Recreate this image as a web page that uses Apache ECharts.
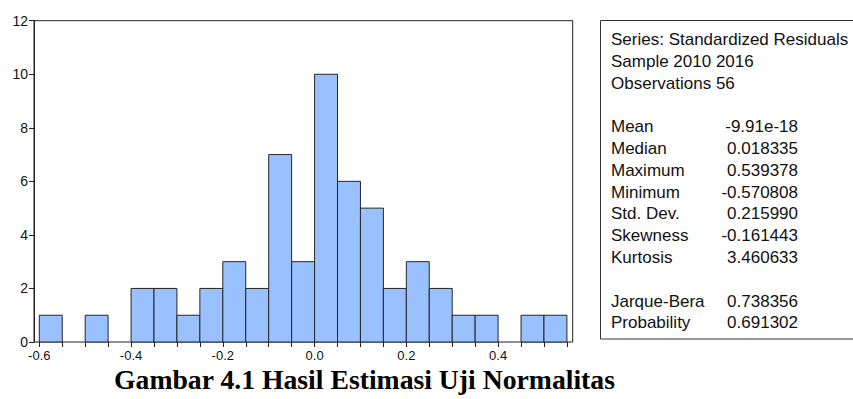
<!DOCTYPE html>
<html>
<head>
<meta charset="utf-8">
<script src="https://cdn.jsdelivr.net/npm/echarts@6/dist/echarts.min.js"></script>
<style>
html,body{margin:0;padding:0;background:#fff;}
#chart{width:853px;height:399px;}
</style>
</head>
<body>
<div id="chart"></div>
<script>
// Histogram bins (lower edges) and counts
var binStarts = [-0.60, -0.55, -0.50, -0.45, -0.40, -0.35, -0.30, -0.25, -0.20, -0.15, -0.10, -0.05,
                 0.00, 0.05, 0.10, 0.15, 0.20, 0.25, 0.30, 0.35, 0.40, 0.45, 0.50];
var binWidth = 0.05;
var counts = [1, 0, 1, 0, 2, 2, 1, 2, 3, 2, 7, 3, 10, 6, 5, 2, 3, 2, 1, 1, 0, 1, 1];

// Axis ticks
var yTicks = [0, 2, 4, 6, 8, 10, 12];
var xLabelValues = [-0.6, -0.4, -0.2, 0.0, 0.2, 0.4];

// Statistics panel
var headerLines = ['Series: Standardized Residuals', 'Sample 2010 2016', 'Observations 56'];
var statLabels = ['Mean', 'Median', 'Maximum', 'Minimum', 'Std. Dev.', 'Skewness', 'Kurtosis'];
var statValues = ['-9.91e-18', '0.018335', '0.539378', '-0.570808', '0.215990', '-0.161443', '3.460633'];
var testLabels = ['Jarque-Bera', 'Probability'];
var testValues = ['0.738356', '0.691302'];

var captionText = 'Gambar 4.1 Hasil Estimasi Uji Normalitas';

var histData = binStarts.map(function (s, i) { return [s, s + binWidth, counts[i]]; });

var chart = echarts.init(document.getElementById('chart'), null, {renderer: 'svg'});

var FONT = 'Arial, "Liberation Sans", Helvetica, sans-serif';
var panelFont = 17;
var lineStep = 21.8;
var panelTop = 39.4;
var labelX = 611;
var valueX = 798;

var graphics = [];
graphics.push({
  type: 'rect',
  shape: {x: 600.5, y: 20.5, width: 270, height: 318.5},
  style: {fill: 'none', stroke: '#333', lineWidth: 1},
  silent: true
});
function addLine(text, x, row, align) {
  graphics.push({
    type: 'text',
    x: x,
    y: panelTop + row * lineStep,
    style: {
      text: text, fill: '#111', font: panelFont + 'px ' + FONT,
      textAlign: align, textVerticalAlign: 'middle'
    },
    silent: true
  });
}
headerLines.forEach(function (t, i) { addLine(t, labelX, i, 'left'); });
statLabels.forEach(function (t, i) {
  addLine(t, labelX, 4 + i, 'left');
  addLine(statValues[i], valueX, 4 + i, 'right');
});
testLabels.forEach(function (t, i) {
  addLine(t, labelX, 12 + i, 'left');
  addLine(testValues[i], valueX, 12 + i, 'right');
});

var option = {
  backgroundColor: '#fff',
  animation: false,
  title: {
    text: captionText,
    left: 364.5,
    textAlign: 'center',
    top: 370,
    padding: 0,
    textStyle: {
      fontFamily: '"Liberation Serif", "Times New Roman", serif',
      fontWeight: 'bold', fontSize: 27.7, lineHeight: 18, color: '#000'
    }
  },
  grid: [
    {left: 34, top: 20.7, width: 538.7, height: 321.3, show: true,
     borderColor: '#222', borderWidth: 1, backgroundColor: 'transparent'},
    {left: 39.3, top: 20.7, width: 527.6, height: 321.3}
  ],
  xAxis: [
    {gridIndex: 0, type: 'value', min: 0, max: 1, show: false},
    {gridIndex: 1, type: 'value', min: -0.6, max: 0.55, interval: 0.05,
     axisLine: {show: false},
     axisTick: {show: true, length: 5, lineStyle: {color: '#222', width: 1}},
     splitLine: {show: false},
     axisLabel: {
       fontSize: 13, color: '#111', fontFamily: FONT, margin: 7,
       formatter: function (v) {
         var r = Math.round(v * 10) / 10;
         for (var i = 0; i < xLabelValues.length; i++) {
           if (Math.abs(v - xLabelValues[i]) < 1e-6) return (r === 0 ? 0 : r).toFixed(1);
         }
         return '';
       }
     }}
  ],
  yAxis: [
    {gridIndex: 0, type: 'value', min: yTicks[0], max: yTicks[yTicks.length - 1], interval: 2,
     axisLine: {show: true, lineStyle: {color: '#222', width: 1}},
     axisTick: {show: true, length: 5, lineStyle: {color: '#222'}},
     splitLine: {show: false},
     axisLabel: {fontSize: 14, color: '#111', fontFamily: FONT, margin: 6}},
    {gridIndex: 1, type: 'value', min: 0, max: 12, show: false}
  ],
  series: [{
    type: 'custom',
    xAxisIndex: 1,
    yAxisIndex: 1,
    data: histData,
    renderItem: function (params, api) {
      var c = api.value(2);
      if (!c) return null;
      var p0 = api.coord([api.value(0), c]);
      var p1 = api.coord([api.value(1), 0]);
      return {
        type: 'rect',
        shape: {x: p0[0], y: p0[1], width: p1[0] - p0[0], height: p1[1] - p0[1]},
        style: {fill: '#99C0FF', stroke: '#262626', lineWidth: 1}
      };
    }
  }],
  graphic: graphics
};
chart.setOption(option);
</script>
</body>
</html>
